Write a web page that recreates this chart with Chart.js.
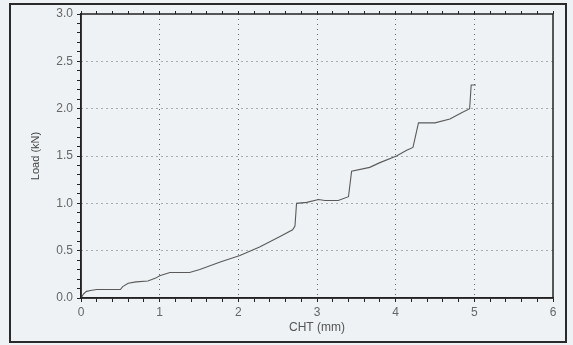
<!DOCTYPE html>
<html>
<head>
<meta charset="utf-8">
<script src="https://cdn.jsdelivr.net/npm/chart.js@4"></script>
<style>
  html, body { margin: 0; padding: 0; background: #eef2f4; }
  #wrap { width: 573px; height: 345px; }
</style>
</head>
<body>
<div id="wrap"><canvas id="loadChart"></canvas></div>
<script>
// values
const cht = [0, 0.03, 0.07, 0.12, 0.2, 0.5, 0.53, 0.6, 0.7, 0.85, 0.95, 1.0, 1.13, 1.38, 1.51, 1.77, 2.02, 2.27, 2.53, 2.69, 2.72, 2.74, 2.87, 3.02, 3.1, 3.27, 3.4, 3.44, 3.67, 3.8, 4.01, 4.14, 4.22, 4.29, 4.5, 4.69, 4.82, 4.94, 4.96, 5.02];
const load = [0, 0.04, 0.07, 0.08, 0.09, 0.09, 0.12, 0.155, 0.17, 0.18, 0.21, 0.235, 0.27, 0.27, 0.3, 0.38, 0.45, 0.54, 0.65, 0.72, 0.76, 1.0, 1.01, 1.04, 1.03, 1.03, 1.07, 1.34, 1.38, 1.43, 1.5, 1.56, 1.59, 1.85, 1.85, 1.89, 1.95, 2.0, 2.25, 2.25];
const xMajor = [0, 1, 2, 3, 4, 5, 6];
const yMajor = [0, 0.5, 1.0, 1.5, 2.0, 2.5, 3.0];

function isMajor(v, list) {
    return list.some(m => Math.abs(m - v) < 1e-6);
}

const framePlugin = {
    id: 'frame',
    beforeDraw(chart) {
        const ctx = chart.ctx;
        ctx.save();
        ctx.fillStyle = '#eef2f4';
        ctx.fillRect(0, 0, chart.width, chart.height);
        ctx.restore();
    },
    afterDraw(chart) {
        const ctx = chart.ctx;
        const a = chart.chartArea;
        ctx.save();
        ctx.strokeStyle = '#222';
        ctx.lineWidth = 1.5;
        ctx.strokeRect(a.left, a.top, a.right - a.left, a.bottom - a.top);
        ctx.strokeStyle = '#2a2a2a';
        ctx.lineWidth = 2;
        ctx.strokeRect(10, 4, 556, 338);
        ctx.restore();
    }
};

const points = cht.map((x, i) => ({ x: x, y: load[i] }));

new Chart(document.getElementById('loadChart'), {
    type: 'scatter',
    data: {
        datasets: [{
            data: points,
            showLine: true,
            borderColor: '#5a5a5a',
            borderWidth: 1.1,
            pointRadius: 0,
            tension: 0
        }]
    },
    options: {
        responsive: true,
        maintainAspectRatio: false,
        animation: false,
        layout: { padding: { left: 10, top: 10, right: 20, bottom: 5 } },
        plugins: { legend: { display: false }, tooltip: { enabled: false } },
        scales: {
            x: {
                type: 'linear',
                min: 0,
                max: 6,
                afterFit: s => { s.height = 42; },
                ticks: {
                    stepSize: 0.2,
                    autoSkip: false,
                    maxRotation: 0,
                    padding: 3,
                    color: '#666',
                    font: { family: 'Liberation Sans', size: 12 },
                    callback: v => isMajor(v, xMajor) ? String(Math.round(v)) : ''
                },
                grid: {
                    color: c => (c.tick && isMajor(c.tick.value, xMajor) && c.tick.value > 0 && c.tick.value < 6) ? '#666' : 'rgba(0,0,0,0)',
                    tickColor: '#222',
                    tickLength: 4,
                    lineWidth: 1
                },
                border: { display: true, color: '#222', width: 1.5, dash: [1, 4] },
                title: {
                    display: true,
                    text: 'CHT (mm)',
                    color: '#555',
                    font: { family: 'Liberation Sans', size: 12 },
                    padding: { top: 0, bottom: 5 }
                }
            },
            x2: {
                type: 'linear',
                position: 'top',
                min: 0,
                max: 6,
                afterFit: s => { s.height = 4; },
                ticks: { display: false, stepSize: 0.2, autoSkip: false },
                grid: { drawOnChartArea: false, tickColor: '#222', tickLength: 3 },
                border: { display: false }
            },
            y: {
                type: 'linear',
                min: 0,
                max: 3,
                afterFit: s => { s.width = 71; },
                ticks: {
                    stepSize: 0.1,
                    autoSkip: false,
                    padding: 4,
                    color: '#666',
                    font: { family: 'Liberation Sans', size: 12 },
                    callback: v => isMajor(v, yMajor) ? v.toFixed(1) : ''
                },
                grid: {
                    color: c => (c.tick && isMajor(c.tick.value, yMajor) && c.tick.value > 0 && c.tick.value < 3) ? '#666' : 'rgba(0,0,0,0)',
                    tickColor: '#222',
                    tickLength: 4,
                    lineWidth: 1
                },
                border: { display: true, color: '#222', width: 1.5, dash: [1, 4] },
                title: {
                    display: true,
                    text: 'Load (kN)',
                    color: '#444',
                    font: { family: 'Liberation Sans', size: 11 },
                    padding: { top: 19, bottom: 0 }
                }
            }
        }
    },
    plugins: [framePlugin]
});
</script>
</body>
</html>
